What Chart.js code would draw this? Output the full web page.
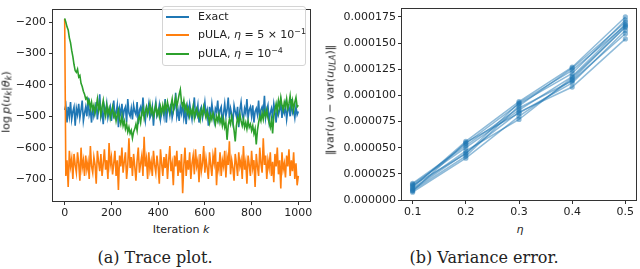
<!DOCTYPE html>
<html><head><meta charset="utf-8">
<script src="https://cdn.jsdelivr.net/npm/chart.js@4"></script>
<style>
html,body{margin:0;padding:0;background:#fff;}
#wrap{position:relative;width:640px;height:269px;overflow:hidden;font-family:"DejaVu Sans",sans-serif;color:#222;}
canvas{position:absolute;}
.lbl{position:absolute;font-size:11px;white-space:nowrap;line-height:1;}
.rot{transform:translate(-50%,-50%) rotate(-90deg);}
.ctr{transform:translate(-50%,-50%);}
.cap{position:absolute;font-family:"DejaVu Serif",serif;font-size:16px;white-space:nowrap;transform:translate(-50%,-50%);color:#222;line-height:1;}
sub{font-size:75%;vertical-align:-0.25em;line-height:0;}
sup{font-size:72%;vertical-align:0.5em;line-height:0;}
#legend{position:absolute;left:162px;top:6px;width:142px;height:58px;border:1px solid #d4d4d4;border-radius:3px;background:rgba(255,255,255,0.85);}
.lrow{position:absolute;left:3px;height:0;}
.lline{position:absolute;left:0;width:23px;height:2px;top:-1px;}
.ltxt{position:absolute;left:32px;top:-6px;font-size:11px;white-space:nowrap;line-height:1;}
</style></head>
<body><div id="wrap">
<canvas id="c1" width="315" height="222" style="left:0;top:0;width:315px;height:222px"></canvas>
<canvas id="c2" width="310" height="221" style="left:330px;top:0;width:310px;height:221px"></canvas>
<div class="lbl rot" style="left:6px;top:102px">log&#8201;<i>p</i>(<i>u<sub>k</sub></i>|<i>θ<sub>k</sub></i>)</div>
<div class="lbl ctr" style="left:181px;top:229px">Iteration <i>k</i></div>
<div class="lbl rot" style="left:330px;top:100px">‖var(<i>u</i>) − var(<i>u<sub>ULA</sub></i>)‖</div>
<div class="lbl ctr" style="left:520px;top:229px"><i>η</i></div>
<div class="cap" style="left:155px;top:258px">(a) Trace plot.</div>
<div class="cap" style="left:484px;top:258px">(b) Variance error.</div>
<div id="legend">
 <div class="lrow" style="top:10px"><div class="lline" style="background:#1f77b4"></div><div class="ltxt">Exact</div></div>
 <div class="lrow" style="top:28px"><div class="lline" style="background:#ff7f0e"></div><div class="ltxt">pULA, <i>η</i> = 5 × 10<sup>−1</sup></div></div>
 <div class="lrow" style="top:47px"><div class="lline" style="background:#2ca02c"></div><div class="ltxt">pULA, <i>η</i> = 10<sup>−4</sup></div></div>
</div>
</div>
<script>
// ---- data: trace plot (values every 5 iterations) ----
const iterStep = 5;
const exactTrace = [
-480,-465,-520,-470,-500,-455,-510,-485,-470,-530,
-475,-495,-460,-505,-480,-450,-515,-490,-470,-500,
-440,-495,-480,-520,-465,-500,-485,-455,-510,-475,
-430,-500,-480,-525,-470,-490,-460,-505,-485,-470,
-515,-480,-450,-500,-490,-465,-535,-475,-495,-460,
-505,-480,-470,-520,-445,-490,-500,-475,-510,-465,
-485,-495,-455,-525,-480,-470,-500,-440,-490,-515,
-475,-485,-460,-505,-495,-470,-530,-480,-455,-500,
-490,-465,-510,-485,-475,-500,-445,-520,-480,-470,
-495,-460,-505,-485,-475,-425,-500,-480,-515,-470,
-490,-455,-505,-480,-525,-470,-495,-460,-485,-510,
-475,-440,-500,-490,-465,-520,-480,-470,-505,-485,
-455,-495,-480,-530,-470,-500,-460,-490,-515,-475,
-485,-450,-505,-480,-470,-525,-490,-460,-500,-480,
-440,-505,-475,-495,-520,-465,-485,-500,-470,-535,
-480,-455,-495,-510,-475,-490,-445,-505,-480,-470,
-500,-465,-520,-485,-475,-495,-450,-510,-480,-470,
-490,-435,-505,-480,-465,-515,-490,-475,-500,-460,
-485,-520,-470,-495,-480,-455,-505,-475,-490,-465,
-510,-480,-470,-500,-445,-490,-480,-505,-470,-495,
-485];
const pulaLargeTrace = [
-190,-690,-640,-725,-610,-660,-635,-700,-620,-655,
-680,-615,-650,-705,-600,-665,-640,-690,-625,-670,
-645,-700,-595,-660,-680,-630,-655,-715,-610,-645,
-675,-620,-690,-650,-605,-670,-640,-700,-585,-655,
-630,-685,-650,-610,-690,-640,-735,-625,-660,-600,
-680,-645,-615,-700,-655,-570,-665,-630,-690,-620,
-660,-705,-640,-600,-680,-650,-625,-690,-565,-660,
-635,-700,-615,-670,-645,-690,-610,-655,-680,-625,
-660,-715,-605,-650,-690,-630,-665,-620,-700,-640,
-595,-675,-650,-720,-625,-660,-610,-690,-640,-680,
-620,-745,-655,-600,-690,-640,-670,-615,-700,-650,
-625,-685,-605,-660,-640,-710,-620,-675,-650,-595,
-680,-635,-665,-700,-615,-655,-690,-625,-650,-600,
-720,-645,-670,-615,-690,-640,-660,-610,-695,-630,
-655,-580,-685,-640,-665,-705,-620,-650,-690,-615,
-660,-640,-700,-595,-670,-645,-715,-625,-655,-690,
-610,-665,-640,-725,-620,-660,-690,-600,-650,-680,
-570,-655,-625,-700,-640,-665,-615,-690,-645,-710,
-620,-660,-600,-685,-640,-730,-615,-670,-650,-695,
-625,-660,-605,-690,-640,-675,-615,-700,-650,-720,
-690];
const pulaSmallTrace = [
-188,-200,-215,-225,-250,-265,-290,-310,-335,-355,-360,-350,-375,-370,-395,-405,-420,-430,-445,-440,
-460,-450,-475,-455,-480,-465,-490,-470,-445,-480,-460,-495,-470,-450,-485,-500,-465,-490,-475,-505,
-485,-470,-500,-490,-515,-495,-480,-510,-525,-500,-530,-515,-540,-525,-550,-535,-555,-545,-570,-550,
-540,-525,-545,-510,-500,-520,-490,-475,-505,-485,-470,-495,-480,-460,-490,-475,-500,-485,-465,-495,
-480,-500,-470,-490,-465,-485,-460,-480,-455,-475,-490,-465,-445,-480,-460,-440,-470,-450,-430,-415,
-455,-470,-450,-480,-465,-490,-475,-500,-480,-495,-470,-505,-485,-475,-500,-490,-510,-480,-495,-470,
-490,-505,-485,-500,-520,-495,-510,-490,-505,-525,-500,-515,-495,-520,-505,-530,-510,-535,-520,-575,
-530,-510,-525,-500,-520,-545,-580,-530,-505,-520,-495,-515,-530,-510,-535,-520,-540,-515,-535,-525,
-545,-530,-555,-540,-590,-545,-520,-500,-515,-490,-510,-485,-500,-480,-505,-520,-535,-510,-555,-500,
-480,-460,-485,-450,-470,-440,-465,-480,-455,-470,-445,-475,-460,-435,-470,-450,-480,-455,-440,-470,
-465];
const traceYTicks = [-700,-600,-500,-400,-300,-200];
const traceXTicks = [0,200,400,600,800,1000];

// ---- data: variance error ----
const etas = [0.1, 0.2, 0.3, 0.4, 0.5];
const varErr1  = [0.0000120, 0.0000560, 0.0000940, 0.0001270, 0.0001750];
const varErr2  = [0.0000090, 0.0000420, 0.0000900, 0.0001260, 0.0001700];
const varErr3  = [0.0000150, 0.0000500, 0.0000860, 0.0001180, 0.0001680];
const varErr4  = [0.0000075, 0.0000400, 0.0000800, 0.0001150, 0.0001660];
const varErr5  = [0.0000130, 0.0000540, 0.0000920, 0.0001210, 0.0001720];
const varErr6  = [0.0000100, 0.0000450, 0.0000840, 0.0001080, 0.0001540];
const varErr7  = [0.0000160, 0.0000520, 0.0000880, 0.0001140, 0.0001590];
const varErr8  = [0.0000110, 0.0000470, 0.0000770, 0.0001170, 0.0001650];
const varErr9  = [0.0000140, 0.0000440, 0.0000930, 0.0001240, 0.0001670];
const varErr10 = [0.0000085, 0.0000550, 0.0000830, 0.0001120, 0.0001620];
const varErrRuns = [varErr1,varErr2,varErr3,varErr4,varErr5,varErr6,varErr7,varErr8,varErr9,varErr10];

// ---- build ----
const toXY = arr => arr.map((v,i)=>({x:i*iterStep, y:v}));
const frame = { id:'frame', afterDraw(c){ const {ctx, chartArea:a}=c; ctx.save(); ctx.strokeStyle='#333'; ctx.lineWidth=1;
  ctx.strokeRect(Math.round(a.left)-0.5, Math.round(a.top)-0.5, Math.round(a.right-a.left)+1, Math.round(a.bottom-a.top)+1); ctx.restore(); } };
const tickFont = {family:'DejaVu Sans', size:11};
const gridOpts = {drawOnChartArea:false, drawTicks:true, tickLength:4, color:'#333'};

new Chart(document.getElementById('c1'), {
  type:'line',
  data:{datasets:[
    {label:'Exact', data:toXY(exactTrace), borderColor:'#1f77b4', order:2},
    {label:'pULA, η = 5 × 10⁻¹', data:toXY(pulaLargeTrace), borderColor:'#ff7f0e', order:1},
    {label:'pULA, η = 10⁻⁴', data:toXY(pulaSmallTrace), borderColor:'#2ca02c', order:0}
  ]},
  options:{
    responsive:false, animation:false, devicePixelRatio:1,
    layout:{padding:{left:0, top:2, right:5, bottom:0}},
    elements:{line:{borderWidth:1.6, tension:0}, point:{radius:0}},
    plugins:{legend:{display:false}, tooltip:{enabled:false}},
    scales:{
      x:{type:'linear', min:-50, max:1050, border:{display:false}, grid:gridOpts,
         afterFit:s=>{s.height=21;},
         afterBuildTicks:s=>{s.ticks=traceXTicks.map(v=>({value:v}));},
         ticks:{font:tickFont, color:'#222', padding:2, maxRotation:0, callback:v=>String(v)}},
      y:{type:'linear', min:-770, max:-160, border:{display:false}, grid:gridOpts,
         afterFit:s=>{s.width=53;},
         afterBuildTicks:s=>{s.ticks=traceYTicks.map(v=>({value:v}));},
         ticks:{font:tickFont, color:'#222', padding:3, callback:v=>(v<0?'\u2212':'')+Math.abs(v)}}
    }
  },
  plugins:[frame]
});

new Chart(document.getElementById('c2'), {
  type:'line',
  data:{datasets: varErrRuns.map((run,i)=>({
    label:'run '+(i+1), data: run.map((v,j)=>({x:etas[j], y:v})),
    borderColor:'rgba(31,119,180,0.5)', backgroundColor:'rgba(31,119,180,0.5)',
    pointBackgroundColor:'rgba(31,119,180,0.5)', pointBorderWidth:0, pointRadius:2.6
  }))},
  options:{
    responsive:false, animation:false, devicePixelRatio:1,
    layout:{padding:{left:0, top:2, right:2, bottom:0}},
    elements:{line:{borderWidth:1.5, tension:0}},
    plugins:{legend:{display:false}, tooltip:{enabled:false}},
    scales:{
      x:{type:'linear', min:0.08, max:0.52, border:{display:false}, grid:gridOpts,
         afterFit:s=>{s.height=21;},
         afterBuildTicks:s=>{s.ticks=etas.map(v=>({value:v}));},
         ticks:{font:tickFont, color:'#222', padding:2, maxRotation:0, callback:v=>Number(v).toFixed(1)}},
      y:{type:'linear', min:0, max:0.000183, border:{display:false}, grid:gridOpts,
         afterFit:s=>{s.width=72;},
         afterBuildTicks:s=>{s.ticks=[0,0.000025,0.00005,0.000075,0.0001,0.000125,0.00015,0.000175].map(v=>({value:v}));},
         ticks:{font:tickFont, color:'#222', padding:2, callback:v=>Number(v).toFixed(6)}}
    }
  },
  plugins:[frame]
});
</script>
</body></html>
